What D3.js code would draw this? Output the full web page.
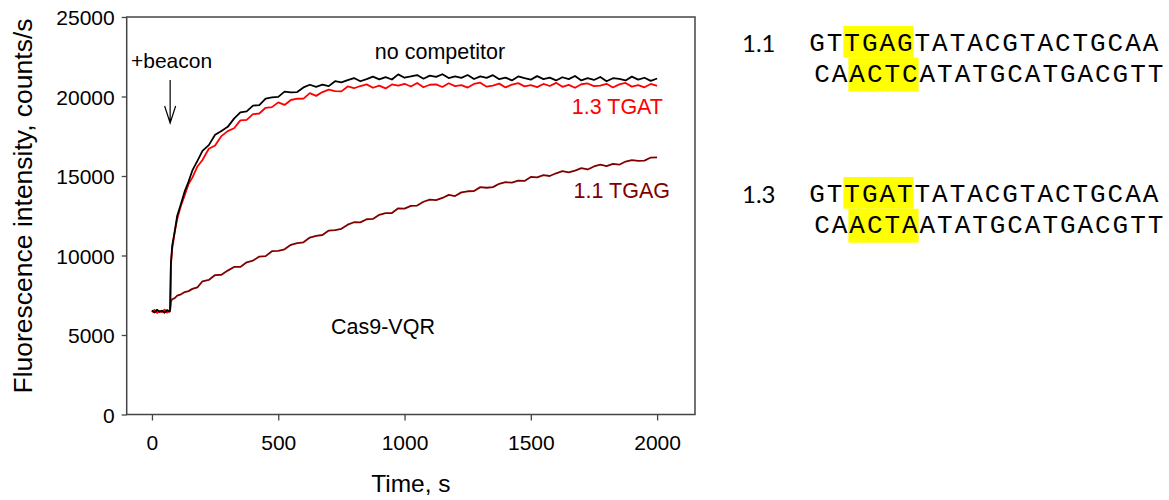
<!DOCTYPE html>
<html>
<head>
<meta charset="utf-8">
<script src="https://cdn.jsdelivr.net/npm/d3@7"></script>
<style>
  body { margin: 0; background: #fff; }
  svg text { font-family: "Liberation Sans", Arial, sans-serif; }
  .seq { font-family: "Liberation Mono", "Courier New", monospace !important; }
  .seq-label { font-family: Lato, "Noto Sans", sans-serif !important; }
</style>
</head>
<body>
<div id="chart"></div>
<script>
/****************************************/
/*****  Data   *****/
/****************************************/
// Time, s (shared by all three traces)
const time = [0, 10, 20, 30, 40, 50, 60, 70, 72, 75, 80, 90, 100, 115, 130, 145, 160, 180,
  200, 225, 250, 275, 300, 325, 350, 375, 400, 425, 450, 475, 500, 525, 550, 575, 600, 625,
  650, 675, 700, 725, 750, 775, 800, 825, 850, 875, 900, 925, 950, 975, 1000, 1025, 1050,
  1075, 1100, 1125, 1150, 1175, 1200, 1225, 1250, 1275, 1300, 1325, 1350, 1375, 1400, 1425,
  1450, 1475, 1500, 1525, 1550, 1575, 1600, 1625, 1650, 1675, 1700, 1725, 1750, 1775, 1800,
  1825, 1850, 1875, 1900, 1925, 1950, 1975, 2000];

const noCompetitor = [6550, 6420, 6580, 6460, 6530, 6400, 6560, 6480, 6600, 9500, 10600, 11500,
  12500, 13250, 14050, 14650, 15350, 15950,
  16580, 16940, 17590, 17830, 18090, 18610, 19000, 19060, 19430, 19460, 19870, 19940, 19980,
  20310, 20260, 20280, 20570, 20740, 20610, 20750, 20650, 20960, 20890, 21030, 21160, 20960,
  21090, 21250, 21080, 21220, 21070, 21390, 21180, 21260, 21350, 21120, 21310, 21230, 21400,
  21160, 21260, 21170, 21350, 21100, 21270, 21170, 21340, 21090, 21190, 21010, 21260, 21150,
  21060, 21280, 21090, 21190, 21010, 21210, 21090, 21290, 21010, 21150, 21040, 21230, 20960,
  21150, 21110, 21010, 21250, 21060, 21180, 20980, 21130];

const tgat13 = [6450, 6580, 6380, 6520, 6440, 6590, 6410, 6500, 6600, 9400, 10400, 11450,
  12300, 13150, 13800, 14500, 14900, 15600,
  16010, 16710, 16920, 17510, 17820, 18000, 18500, 18530, 18890, 18930, 19290, 19330, 19630,
  19470, 19780, 19860, 19870, 20210, 20040, 20280, 20430, 20340, 20320, 20630, 20520, 20660,
  20760, 20550, 20680, 20510, 20760, 20680, 20800, 20630, 20850, 20580, 20740, 20760, 20600,
  20830, 20650, 20720, 20560, 20790, 20870, 20620, 20680, 20810, 20570, 20750, 20840, 20640,
  20710, 20590, 20790, 20660, 20860, 20610, 20730, 20550, 20770, 20820, 20650, 20690, 20800,
  20570, 20760, 20850, 20620, 20720, 20580, 20790, 20670];

const tgag11 = [6520, 6430, 6570, 6460, 6510, 6420, 6550, 6490, 6600, 7100, 7250, 7320,
  7480, 7560, 7700, 7760, 7900, 8000,
  8380, 8460, 8770, 8790, 9050, 9280, 9280, 9570, 9680, 9930, 9960, 10270, 10290, 10390,
  10670, 10780, 10830, 11130, 11240, 11290, 11570, 11600, 11680, 11940, 12090, 12080, 12280,
  12300, 12560, 12660, 12670, 12970, 12950, 13120, 13140, 13380, 13520, 13480, 13620, 13810,
  13740, 13970, 14040, 14050, 14300, 14260, 14300, 14510, 14610, 14580, 14710, 14690, 14940,
  14910, 15060, 15000, 15170, 15300, 15230, 15340, 15490, 15410, 15600, 15720, 15620, 15760,
  15710, 15910, 16000, 15950, 15970, 16160, 16170];

const xTicks = [0, 500, 1000, 1500, 2000];
const yTicks = [0, 5000, 10000, 15000, 20000, 25000];

// Sequences on the right
const seqLabels = ["1.1", "1.3"];
const topStrands = ["GTTGAGTATACGTACTGCAA", "GTTGATTATACGTACTGCAA"];
const bottomStrands = ["CAACTCATATGCATGACGTT", "CAACTAATATGCATGACGTT"];
const highlightRange = [2, 6]; // characters 2..5 are highlighted

/****************************************/
/*****  Chart   *****/
/****************************************/
const width = 1169;
const height = 500;
const svg = d3.select('#chart')
  .append('svg')
    .attr('width', width)
    .attr('height', height);

const x = d3.scaleLinear()
  .domain([-100, 2150])
  .range([126.7, 695]);
const y = d3.scaleLinear()
  .domain([0, 25000])
  .range([414.5, 17]);

const axisColor = '#444';

// Axes
const xAxis = svg.append('g')
  .attr('transform', `translate(0, ${y(0)})`)
  .call(d3.axisBottom(x).tickValues(xTicks).tickFormat(d3.format('d'))
    .tickSize(6).tickSizeOuter(0).tickPadding(15));
const yAxis = svg.append('g')
  .attr('transform', `translate(${x(-100)}, 0)`)
  .call(d3.axisLeft(y).tickValues(yTicks).tickFormat(d3.format('d'))
    .tickSize(5).tickSizeOuter(0).tickPadding(7));

[xAxis, yAxis].forEach(a => {
  a.select('.domain').remove();
  a.selectAll('line').attr('stroke', axisColor).attr('stroke-width', 1.3);
  a.selectAll('text')
    .attr('fill', '#000')
    .style('font-size', '21px');
});
yAxis.selectAll('text').attr('dy', '0.36em');
xAxis.selectAll('text').attr('dy', '0.71em');

// Frame
svg.append('rect')
  .attr('x', x(-100))
  .attr('y', y(25000))
  .attr('width', x(2150) - x(-100))
  .attr('height', y(0) - y(25000))
  .attr('fill', 'none')
  .attr('stroke', axisColor)
  .attr('stroke-width', 1.5);

// Traces
const series = [
  { values: tgag11, color: '#800000' },
  { values: tgat13, color: '#ff0000' },
  { values: noCompetitor, color: '#000000' }
];
const line = d3.line()
  .x((d, i) => x(time[i]))
  .y(d => y(d));

svg.append('g')
  .attr('class', 'traces')
  .selectAll('path')
  .data(series)
  .join('path')
    .attr('d', d => line(d.values))
    .attr('fill', 'none')
    .attr('stroke', d => d.color)
    .attr('stroke-width', 1.8)
    .attr('stroke-linejoin', 'round');

// Axis titles
svg.append('text')
  .attr('x', (x(-100) + x(2150)) / 2)
  .attr('y', 492)
  .attr('text-anchor', 'middle')
  .style('font-size', '24.5px')
  .text('Time, s');

svg.append('text')
  .attr('transform', `translate(32, 206) rotate(-90)`)
  .attr('text-anchor', 'middle')
  .style('font-size', '26.5px')
  .text('Fluorescence intensity, counts/s');

// Annotations
svg.append('text')
  .attr('x', 131)
  .attr('y', 68)
  .style('font-size', '21px')
  .text('+beacon');

const arrowX = x(72);
svg.append('path')
  .attr('d', `M${arrowX},80 L${arrowX},123 M${arrowX - 5.5},106 L${arrowX},123 L${arrowX + 5.5},106`)
  .attr('fill', 'none')
  .attr('stroke', '#000')
  .attr('stroke-width', 1.2);

svg.append('text')
  .attr('x', 440)
  .attr('y', 59)
  .attr('text-anchor', 'middle')
  .style('font-size', '21.5px')
  .text('no competitor');

svg.append('text')
  .attr('x', 663)
  .attr('y', 114)
  .attr('text-anchor', 'end')
  .attr('fill', '#ff0000')
  .style('font-size', '21.5px')
  .text('1.3 TGAT');

svg.append('text')
  .attr('x', 670)
  .attr('y', 198)
  .attr('text-anchor', 'end')
  .attr('fill', '#800000')
  .style('font-size', '21.5px')
  .text('1.1 TGAG');

svg.append('text')
  .attr('x', 383)
  .attr('y', 334)
  .attr('text-anchor', 'middle')
  .style('font-size', '21.5px')
  .text('Cas9-VQR');

/****************************************/
/*****  Sequences   *****/
/****************************************/
const charWidth = 17.55;
const blockOffset = 151;
const seqGroup = svg.append('g').attr('class', 'sequences');

seqLabels.forEach((label, b) => {
  const top = 52.3 + b * blockOffset;
  const g = seqGroup.append('g');
  const strands = [
    { seq: topStrands[b], x0: 808.3, baseline: top, boxTop: top - 26.3, boxH: 31.7 },
    { seq: bottomStrands[b], x0: 813.3, baseline: top + 31, boxTop: top + 5.4, boxH: 34 }
  ];

  // Yellow highlights first so letters sit on top
  strands.forEach(s => {
    g.append('rect')
      .attr('x', s.x0 + highlightRange[0] * charWidth)
      .attr('y', s.boxTop)
      .attr('width', (highlightRange[1] - highlightRange[0]) * charWidth)
      .attr('height', s.boxH)
      .attr('fill', '#ffff00');
  });

  strands.forEach(s => {
    g.append('g')
      .selectAll('text')
      .data(s.seq.split(''))
      .join('text')
        .attr('class', 'seq')
        .attr('x', (d, i) => s.x0 + i * charWidth + charWidth / 2)
        .attr('y', s.baseline - 1)
        .attr('text-anchor', 'middle')
        .style('font-size', '26px')
        .text(d => d);
  });

  g.append('text')
    .attr('class', 'seq-label')
    .attr('x', 742)
    .attr('y', top)
    .style('font-size', '24px')
    .text(label);
});
</script>
</body>
</html>
